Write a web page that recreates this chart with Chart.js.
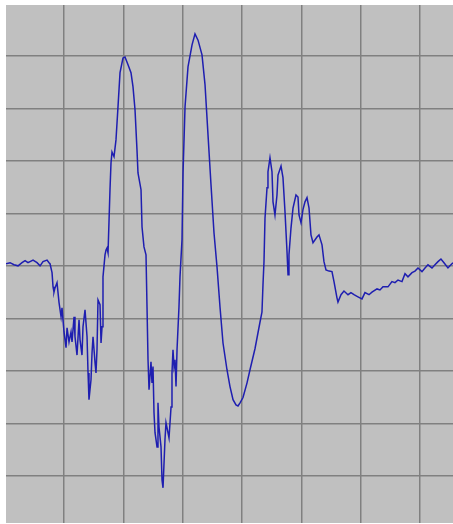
<!DOCTYPE html>
<html lang="en">
<head>
    <meta charset="UTF-8">
    <title>Signal trace</title>
    <script src="https://cdn.jsdelivr.net/npm/chart.js"></script>
    <style>
        body {
            margin: 0;
            background-color: #ffffff;
        }
        .chart-container {
            position: absolute;
            left: 6px;
            top: 5px;
            width: 447px;
            height: 518px;
        }
    </style>
</head>
<body>
    <div class="chart-container">
        <canvas id="traceChart"></canvas>
    </div>

    <script>
        // time, in grid divisions
        const timeDiv = [
            0.022, 0.090, 0.157, 0.225, 0.292, 0.343, 0.393, 0.478, 0.545, 0.596,
            0.646, 0.714, 0.747, 0.764, 0.798, 0.815, 0.831, 0.848, 0.882, 0.899,
            0.916, 0.950, 0.966, 0.983, 1.000, 1.034, 1.051, 1.084, 1.118, 1.135,
            1.169, 1.185, 1.219, 1.253, 1.270, 1.303, 1.320, 1.354, 1.388, 1.405,
            1.421, 1.455, 1.472, 1.489, 1.523, 1.539, 1.556, 1.573, 1.607, 1.624,
            1.641, 1.657, 1.691, 1.708, 1.725, 1.742, 1.775, 1.792, 1.809, 1.843,
            1.876, 1.910, 1.944, 1.994, 2.028, 2.079, 2.129, 2.163, 2.197, 2.230,
            2.247, 2.298, 2.315, 2.348, 2.382, 2.399, 2.416, 2.433, 2.466, 2.483,
            2.500, 2.517, 2.534, 2.568, 2.584, 2.601, 2.635, 2.652, 2.669, 2.702,
            2.719, 2.753, 2.770, 2.804, 2.820, 2.837, 2.854, 2.871, 2.888, 2.905,
            2.938, 2.955, 2.989, 3.006, 3.040, 3.090, 3.158, 3.208, 3.259, 3.326,
            3.377, 3.427, 3.478, 3.528, 3.579, 3.629, 3.680, 3.747, 3.798, 3.849,
            3.899, 3.933, 3.967, 4.017, 4.085, 4.135, 4.219, 4.304, 4.337, 4.354,
            4.371, 4.388, 4.422, 4.438, 4.472, 4.506, 4.523, 4.556, 4.590, 4.607,
            4.658, 4.691, 4.725, 4.759, 4.776, 4.792, 4.826, 4.860, 4.910, 4.944,
            4.961, 4.995, 5.028, 5.062, 5.096, 5.130, 5.163, 5.197, 5.264, 5.298,
            5.349, 5.382, 5.416, 5.467, 5.517, 5.551, 5.601, 5.618, 5.669, 5.719,
            5.787, 5.837, 5.888, 5.955, 6.023, 6.073, 6.141, 6.191, 6.276, 6.326,
            6.377, 6.461, 6.528, 6.579, 6.630, 6.697, 6.748, 6.798, 6.866, 6.916,
            6.967, 7.034, 7.085, 7.135, 7.203, 7.253, 7.304, 7.354, 7.405, 7.472,
            7.506, 7.557
        ];

        // amplitude, in grid divisions
        const signalDiv = [
            0.04, 0.06, 0.02, 0.00, 0.06, 0.10, 0.06, 0.11, 0.06, 0.00,
            0.08, 0.11, 0.06, 0.04, -0.13, -0.40, -0.50, -0.42, -0.32, -0.51,
            -0.70, -0.97, -0.80, -1.03, -1.26, -1.56, -1.18, -1.45, -1.26, -1.45,
            -0.97, -1.35, -1.70, -1.03, -1.41, -1.70, -1.16, -0.84, -1.35, -2.04,
            -2.55, -2.17, -1.66, -1.35, -1.85, -2.04, -1.60, -0.65, -0.74, -1.47,
            -1.16, -0.21, 0.21, 0.30, 0.34, 0.25, 1.45, 1.96, 2.17, 2.08,
            2.40, 3.03, 3.68, 3.96, 3.98, 3.83, 3.68, 3.41, 2.97, 2.21,
            1.77, 1.45, 0.74, 0.36, 0.21, -0.78, -1.79, -2.36, -1.83, -2.23,
            -1.92, -2.80, -3.18, -3.45, -2.61, -3.07, -3.45, -4.08, -4.23, -3.31,
            -2.99, -3.18, -3.28, -2.69, -2.04, -1.60, -1.92, -1.79, -2.30, -1.60,
            -0.78, -0.21, 0.50, 1.77, 3.03, 3.79, 4.21, 4.42, 4.30, 4.02,
            3.45, 2.50, 1.54, 0.63, -0.02, -0.78, -1.47, -1.98, -2.30, -2.55,
            -2.65, -2.67, -2.61, -2.51, -2.23, -1.98, -1.58, -1.07, -0.88, -0.36,
            0.08, 0.91, 1.49, 1.79, 2.06, 1.79, 1.22, 0.97, 1.35, 1.73,
            1.90, 1.68, 1.03, 0.27, -0.17, 0.21, 0.72, 1.10, 1.35, 1.31,
            0.97, 0.82, 1.07, 1.22, 1.30, 1.10, 0.59, 0.44, 0.55, 0.59,
            0.40, 0.08, -0.08, -0.10, -0.11, -0.30, -0.61, -0.69, -0.55, -0.48,
            -0.55, -0.51, -0.55, -0.59, -0.63, -0.51, -0.55, -0.50, -0.44, -0.46,
            -0.40, -0.40, -0.30, -0.32, -0.27, -0.30, -0.15, -0.21, -0.13, -0.10,
            -0.04, -0.11, -0.04, 0.02, -0.04, 0.02, 0.08, 0.13, 0.06, -0.04,
            0.00, 0.06
        ];

        // grid lines
        const xTicks = [1, 2, 3, 4, 5, 6, 7];
        const yTicks = [-4, -3, -2, -1, 0, 1, 2, 3, 4];

        const points = timeDiv.map((t, i) => ({ x: t, y: signalDiv[i] }));

        // grey screen behind the trace
        const screenBg = {
            id: 'screenBg',
            beforeDraw(chart) {
                const { ctx, chartArea } = chart;
                ctx.save();
                ctx.fillStyle = '#c0c0c0';
                ctx.fillRect(chartArea.left, chartArea.top, chartArea.width, chartArea.height);
                ctx.restore();
            }
        };

        const gridOpts = {
            color: '#808080',
            lineWidth: 1.5,
            drawTicks: false
        };

        new Chart(document.getElementById('traceChart'), {
            type: 'scatter',
            data: {
                datasets: [{
                    data: points,
                    showLine: true,
                    borderColor: '#1e1eb0',
                    borderWidth: 1.5,
                    pointRadius: 0,
                    tension: 0
                }]
            },
            options: {
                responsive: true,
                maintainAspectRatio: false,
                animation: false,
                layout: { padding: 0 },
                plugins: {
                    legend: { display: false },
                    tooltip: { enabled: false }
                },
                scales: {
                    x: {
                        type: 'linear',
                        min: 0.022,
                        max: 7.557,
                        grid: gridOpts,
                        border: { display: false },
                        ticks: { display: false },
                        afterBuildTicks: scale => { scale.ticks = xTicks.map(v => ({ value: v })); }
                    },
                    y: {
                        type: 'linear',
                        min: -4.90,
                        max: 4.97,
                        grid: gridOpts,
                        border: { display: false },
                        ticks: { display: false },
                        afterBuildTicks: scale => { scale.ticks = yTicks.map(v => ({ value: v })); }
                    }
                }
            },
            plugins: [screenBg]
        });
    </script>
</body>
</html>
